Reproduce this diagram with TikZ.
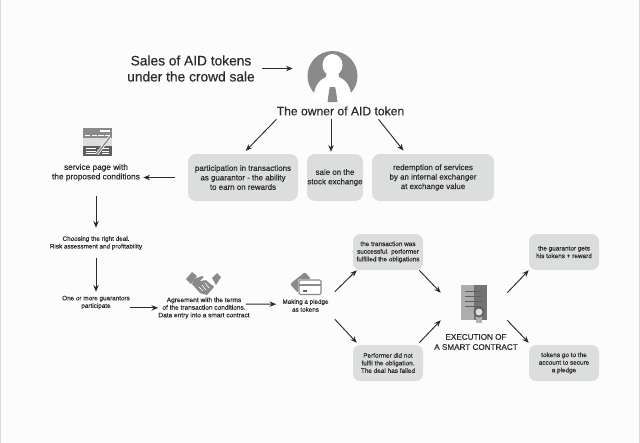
\documentclass[tikz,border=0pt]{standalone}
\usepackage{fontspec}
\setmainfont{Liberation Sans}[RawFeature={embolden=0.35}]
\usetikzlibrary{arrows.meta}

\definecolor{boxgray}{HTML}{DCDDDD}
\definecolor{icongray}{HTML}{8A8A8A}
\definecolor{darkgray}{HTML}{5F5F5F}
\definecolor{inkgray}{HTML}{2B2B2B}

\tikzstyle{infobox}=[draw=none, fill=boxgray, rounded corners=6pt, align=center, text=inkgray, font=\fontsize{5.95}{7.1}\selectfont, inner sep=0pt]
\tikzstyle{smallbox}=[infobox, minimum width=52.5pt, minimum height=27pt, rounded corners=5.5pt, font=\fontsize{4.8}{5.7}\selectfont]
\tikzstyle{bigbox}=[infobox, minimum height=35.25pt]
\tikzstyle{label}=[align=center, text=inkgray, font=\fontsize{4.75}{5.7}\selectfont, inner sep=0pt]
\tikzstyle{conn}=[draw=inkgray, line width=0.7pt, -{Stealth[length=5pt,width=4pt]}]

\begin{document}
\begin{tikzpicture}[x=0.75pt,y=-0.75pt]

\useasboundingbox (0,0) rectangle (640,443);
\fill[white!99!black] (0,0) rectangle (640,443);
\draw[black!15, line width=0.6pt] (0.5,0) -- (0.5,443);
\draw[black!15, line width=0.6pt] (639,0) -- (639,443);

% upper part
\node[label, font=\fontsize{10.3}{12}\selectfont, minimum width=106.5pt] (title) at (191,68.5) {Sales of AID tokens\\under the crowd sale};
\node[circle, minimum size=58.5pt, inner sep=0pt] (avatar) at (332,76) {};
\node[label, font=\fontsize{9.1}{11}\selectfont, minimum width=95.25pt, minimum height=12pt] (owner) at (340.5,111) {The owner of AID token};

\node[bigbox, minimum width=82.5pt] (guar) at (243,177.5) {participation in transactions\\as guarantor - the ability\\to earn on rewards};
\node[bigbox, minimum width=42pt] (sale) at (335,177.5) {sale on the\\stock exchange};
\node[bigbox, minimum width=91.5pt] (redeem) at (433,177.5) {redemption of services\\by an internal exchanger\\at exchange value};

\node[label, font=\fontsize{6.2}{7.1}\selectfont, minimum width=70.5pt, minimum height=34.5pt] (service) at (96,172.5) {service page with\\the proposed conditions};
\node[label, minimum height=22.5pt] (choose) at (96,243) {Choosing the right deal.\\Risk assessment and profitability};
\node[label, minimum width=48pt, minimum height=15.75pt] (guarantors) at (96,302.5) {One or more guarantors\\participate};
\node[label, font=\fontsize{4.9}{5.7}\selectfont, minimum width=64.5pt] (agree) at (204,308) {Agreement with the terms\\of the transaction conditions.\\Data entry into a smart contract};
\node[label, font=\fontsize{4.7}{5.9}\selectfont, minimum width=43.5pt, minimum height=20.25pt] (pledge) at (305.5,305.5) {Making a pledge\\as tokens};

% lower part
\node[smallbox] (success) at (388,252) {the transaction was\\successful. performer\\fulfilled the obligations};
\node[smallbox] (fail) at (388,363) {Performer did not\\fulfil the obligation.\\The deal has failed};
\node[smallbox] (reward) at (564,252) {the guarantor gets\\his tokens + reward};
\node[smallbox] (secure) at (564,363) {tokens go to  the\\account to secure\\a pledge};
\node[minimum width=49.5pt, minimum height=20.25pt, inner sep=0pt] (contract) at (474,306.5) {};
\node[label, font=\fontsize{6.1}{7.6}\selectfont] (execution) at (476,342) {EXECUTION OF\\A SMART CONTRACT};

% avatar
\fill[icongray] (332.5,76) circle (25);
\fill[white] (327,71) -- (326,77) .. controls (318,81) and (314,86) .. (313,102) -- (352,102) .. controls (351,86) and (347,81) .. (339,77) -- (338,71) -- cycle;
\fill[white] (332.5,65) ellipse (10 and 11);
\fill[icongray] (330,87) -- (335,87) -- (335.8,90) -- (337.5,102) -- (327.5,102) -- (329.2,90) -- cycle;

% service page icon
\fill[icongray] (83,128) rectangle (112,138);
\fill[boxgray] (83,138) rectangle (112,146);
\fill[darkgray] (83,146) rectangle (112,156);
\foreach \y in {148.5,151,153.5}{
  \draw[white, line width=0.4pt] (86,\y) -- (96,\y);
  \draw[white, line width=0.4pt] (102,\y) -- (109,\y);
}
\draw[white, line width=0.6pt, dash pattern=on 4pt off 1pt] (85,135.5) -- (110,135.5);
\draw[white, line width=0.8pt] (100,131) -- (110,131);
\draw[white, line width=2.2pt] (97,154) -- (110,137);
\draw[icongray, line width=1.1pt] (97,154) -- (110,137);

% handshake icon
\fill[icongray] (186,279) -- (192,272) -- (197,276) -- (191,284) -- cycle;
\fill[icongray] (212,278) -- (217,273) -- (221,277) -- (216,285) -- cycle;
\fill[icongray] (194,279) -- (202,276) -- (207,279) -- (214,287) -- (207,295) -- (200,293) -- (192,284) -- cycle;
\fill[white] (200,281) -- (204,277) -- (210,276) -- (214,282) -- (212,285) -- (206,280) -- cycle;
\draw[white, line width=0.5pt] (199,287) -- (203,291) (202,285) -- (206,290) (205,283) -- (209,288);

% pledge card icon
\fill[icongray, rounded corners=1.5pt] (290,284) -- (305,272) -- (311,279) -- (298,279) -- (298,293) -- cycle;
\draw[icongray, fill=white, line width=0.8pt, rounded corners=1pt] (299,280) rectangle (321,294.5);
\fill[icongray] (299,283.5) rectangle (321,286);
\fill[darkgray] (302.5,289.5) rectangle (306.5,291.5);

% contract icon
\fill[black!32] (461,285) rectangle (474,320);
\fill[black!55] (474,285) rectangle (487,320);
\foreach \y in {291,296,301,306}{
  \draw[darkgray, line width=0.7pt] (465,\y) -- (481,\y);
}
\fill[black!30] (476,314) rectangle (482,323);
\fill[darkgray] (479,312) circle (5.5);
\fill[boxgray] (479,312) circle (3.5);

% connectors
\draw[conn] (title.east) -- (title.east -| avatar.west);
\draw[conn, shorten >=3pt] (owner.south west) -- (guar.north);
\draw[conn, shorten >=1.5pt] ([xshift=-3pt]sale.north |- owner.south) -- ([xshift=-3pt]sale.north);
\draw[conn, shorten >=3pt] ([xshift=28.5pt]owner.south) -- ([xshift=-20.25pt]redeem.north);
\draw[conn, shorten <=9.75pt] (guar.west) -- (guar.west -| service.east);
\draw[conn] (service) -- (choose);
\draw[conn] (choose) -- (guarantors);
\draw[conn] ([yshift=0.1pt]agree.west -| guarantors.east) -- ([yshift=0.1pt]agree.west);
\draw[conn] ([xshift=-3pt,yshift=2.9pt]agree.east) -- ([yshift=1pt]pledge.west);
\draw[conn] (pledge.north east) -- ([xshift=3pt]success.south west);
\draw[conn] (pledge.south east) -- ([xshift=3pt,yshift=1.5pt]fail.north west);
\draw[conn] ([xshift=-3pt]success.south east) -- (contract.north west);
\draw[conn] ([xshift=-3pt,yshift=1.5pt]fail.north east) -- (contract.south west);
\draw[conn] (contract.north east) -- (reward.south west);
\draw[conn] (contract.south east) -- ([yshift=1.5pt]secure.north west);

\end{tikzpicture}
\end{document}
